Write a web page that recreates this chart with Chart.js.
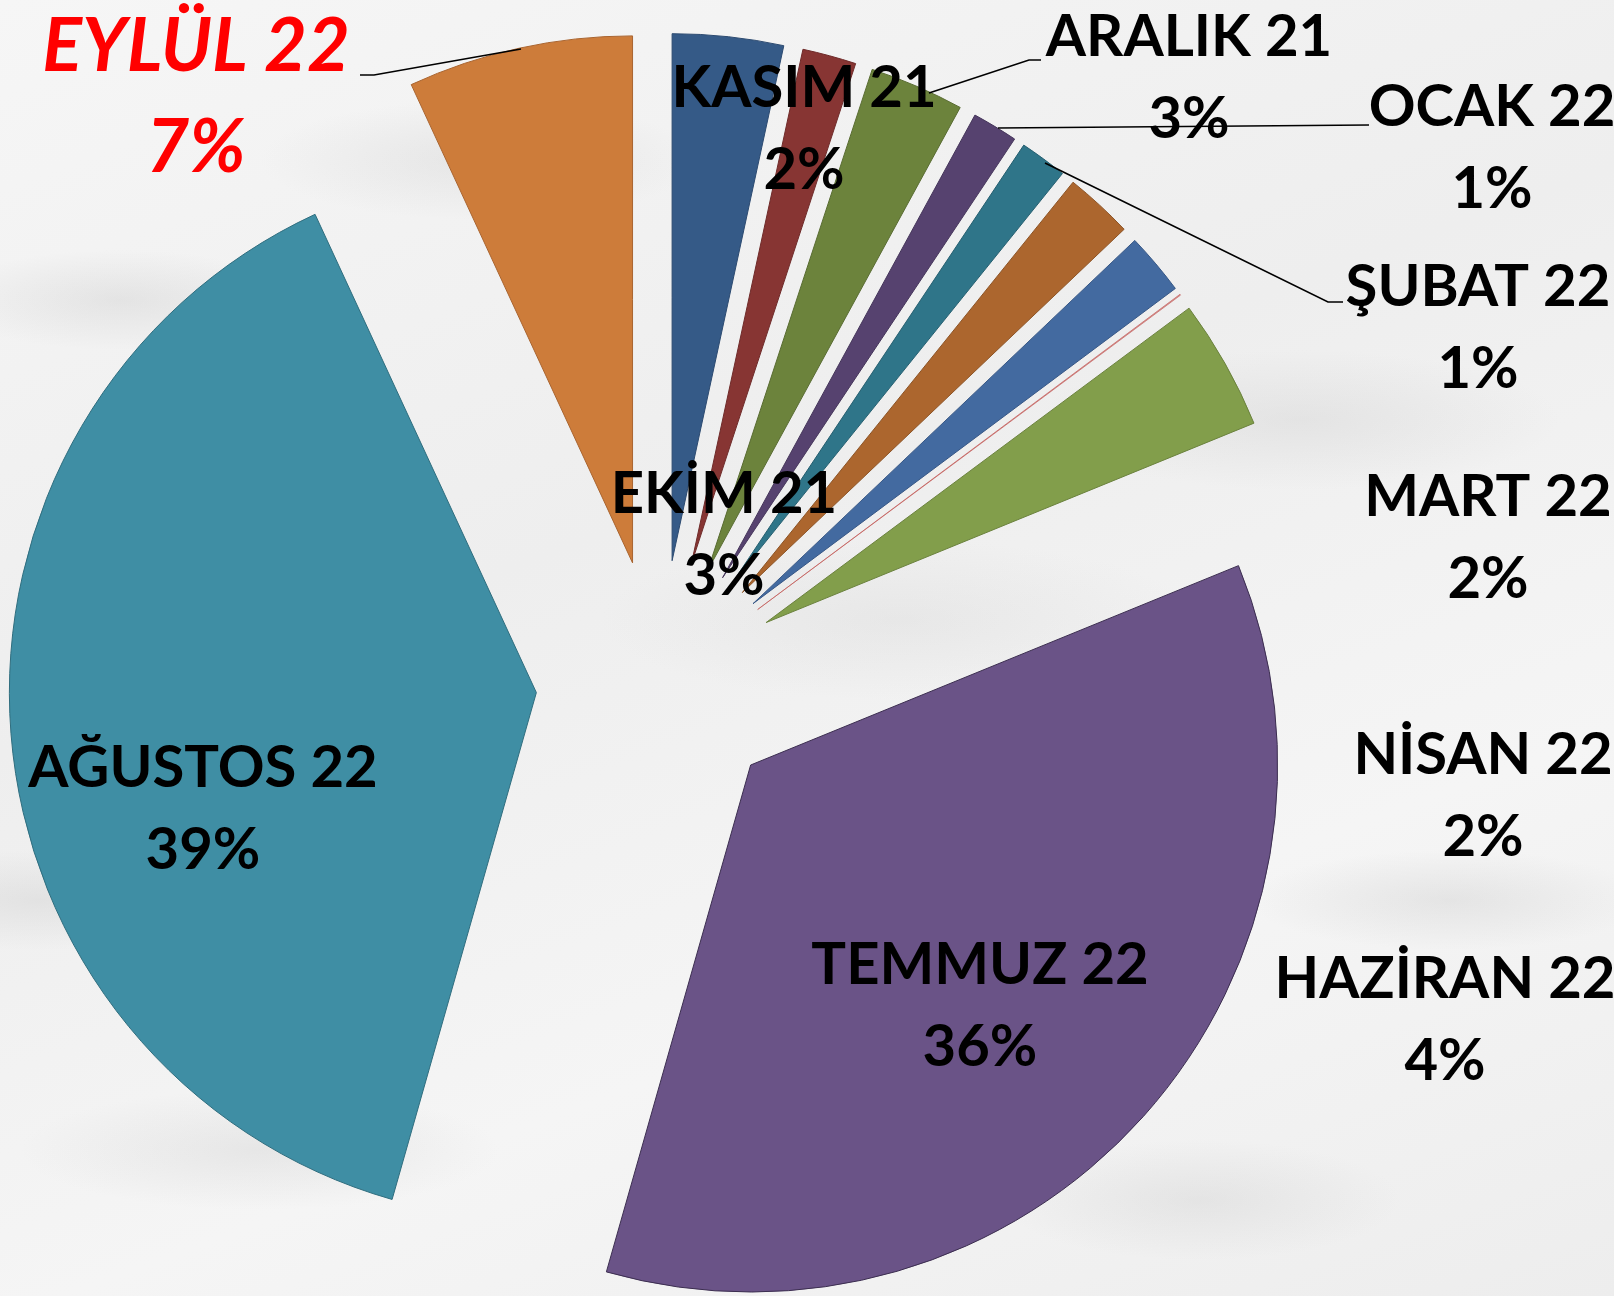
<!DOCTYPE html>
<html>
<head>
<meta charset="utf-8">
<script src="https://cdn.jsdelivr.net/npm/chart.js@4.4.1/dist/chart.umd.min.js"></script>
<style>
  html, body { margin: 0; padding: 0; }
  body {
    width: 1614px; height: 1296px; overflow: hidden;
    background-color: #f2f2f2;
    background-image:
      radial-gradient(ellipse 180px 50px at 120px 300px, rgba(200,200,200,0.35), transparent),
      radial-gradient(ellipse 220px 60px at 480px 160px, rgba(205,205,205,0.35), transparent),
      radial-gradient(ellipse 260px 70px at 1300px 420px, rgba(205,205,205,0.35), transparent),
      radial-gradient(ellipse 200px 50px at 1450px 900px, rgba(200,200,200,0.35), transparent),
      radial-gradient(ellipse 240px 60px at 260px 1150px, rgba(205,205,205,0.35), transparent),
      radial-gradient(ellipse 300px 80px at 900px 620px, rgba(210,210,210,0.3), transparent),
      radial-gradient(ellipse 200px 60px at 1200px 1200px, rgba(205,205,205,0.35), transparent),
      radial-gradient(ellipse 180px 50px at 40px 900px, rgba(200,200,200,0.35), transparent),
      linear-gradient(160deg, #f6f6f6, #eeeeee 40%, #f5f5f5 70%, #ededed);
  }
</style>
</head>
<body>
<canvas id="myChart" width="1614" height="1296"></canvas>
<script>
let months = ["EKİM 21", "KASIM 21", "ARALIK 21", "OCAK 22", "ŞUBAT 22", "MART 22",
  "NİSAN 22", "MAYIS 22", "HAZİRAN 22", "TEMMUZ 22", "AĞUSTOS 22", "EYLÜL 22"];
let shares = [3.4, 1.65, 2.9, 1.4, 1.45, 2.1, 1.9, 0.03, 4.0, 35.6, 38.7, 6.9];

let color = ["#355a87", "#873533", "#6c833c", "#56426f", "#2f7589", "#ac662e",
  "#436aa0", "rgba(192,80,77,0.5)", "#829e4b", "#6a5387", "#3f8ea4", "#cd7c3a"];
let edge = ["#2c4a70", "#6e2a29", "#586b31", "#45355a", "#265f70", "#8c5325",
  "#375785", "rgba(192,80,77,0.6)", "#6a813d", "#3b2d4f", "#2f6d7e", "#a9642f"];

// label centres (name line), null = no label; leader lines; all in canvas px
let labelPos = [[724, 494], [804, 88], [1189, 37], [1492, 107], [1478, 287], [1488, 497],
  [1483, 755], null, [1445, 979], [980, 965], [203, 768], [196, 47]];
let leaders = [
  [[360, 75], [374, 75], [521, 49]],
  [[929, 93], [1029, 60], [1041, 60]],
  [[998, 128], [1369, 125]],
  [[1045, 163], [1328, 302], [1343, 302]]
];

// how far each slice is pulled out of the pie (px)
const shift = 123;

// pull every slice straight out along its bisector, keeping its radius and angle
const explodePlugin = {
  id: "explode",
  beforeDatasetsDraw(chart) {
    chart.getDatasetMeta(0).data.forEach((arc) => {
      if (arc._pulled) return;
      const orig = arc.draw.bind(arc);
      arc.draw = function (ctx, area) {
        const mid = (this.startAngle + this.endAngle) / 2;
        ctx.save();
        ctx.translate(Math.cos(mid) * shift, Math.sin(mid) * shift);
        orig(ctx, area);
        ctx.restore();
      };
      arc._pulled = true;
    });
  }
};

const labelPlugin = {
  id: "sliceLabels",
  afterDatasetsDraw(chart) {
    const ctx = chart.ctx;
    const total = shares.reduce((a, b) => a + b, 0);
    ctx.save();
    ctx.strokeStyle = "#000";
    ctx.lineWidth = 1.6;
    leaders.forEach((pts) => {
      ctx.beginPath();
      pts.forEach((p, i) => (i ? ctx.lineTo(p[0], p[1]) : ctx.moveTo(p[0], p[1])));
      ctx.stroke();
    });
    ctx.textAlign = "center";
    ctx.textBaseline = "middle";
    months.forEach((m, i) => {
      const p = labelPos[i];
      if (!p) return;
      const pct = Math.round((shares[i] / total) * 100) + "%";
      if (i === months.length - 1) {
        ctx.fillStyle = "#ff0000";
        ctx.font = "italic bold 74px Lato";
        ctx.fillText(m, p[0], p[1]);
        ctx.fillText(pct, p[0], p[1] + 101);
      } else {
        ctx.fillStyle = "#000";
        ctx.font = "bold 58px Lato";
        ctx.fillText(m, p[0], p[1]);
        ctx.fillText(pct, p[0], p[1] + 82);
      }
    });
    ctx.restore();
  }
};

const config = {
  type: "pie",
  data: {
    labels: [...months],
    datasets: [
      {
        data: [...shares],
        backgroundColor: [...color],
        borderColor: [...edge],
        borderWidth: 1,
        offset: 0,
        hoverOffset: 0,
        clip: false,
      },
    ],
  },
  options: {
    responsive: false,
    maintainAspectRatio: false,
    animation: false,
    radius: 527,
    layout: { padding: { left: 0, right: 296, top: 70, bottom: 0 } },
    plugins: {
      legend: { display: false },
      tooltip: { enabled: false },
    },
  },
  plugins: [explodePlugin, labelPlugin],
};
var myChart = new Chart(document.getElementById("myChart"), config);
</script>
</body>
</html>
